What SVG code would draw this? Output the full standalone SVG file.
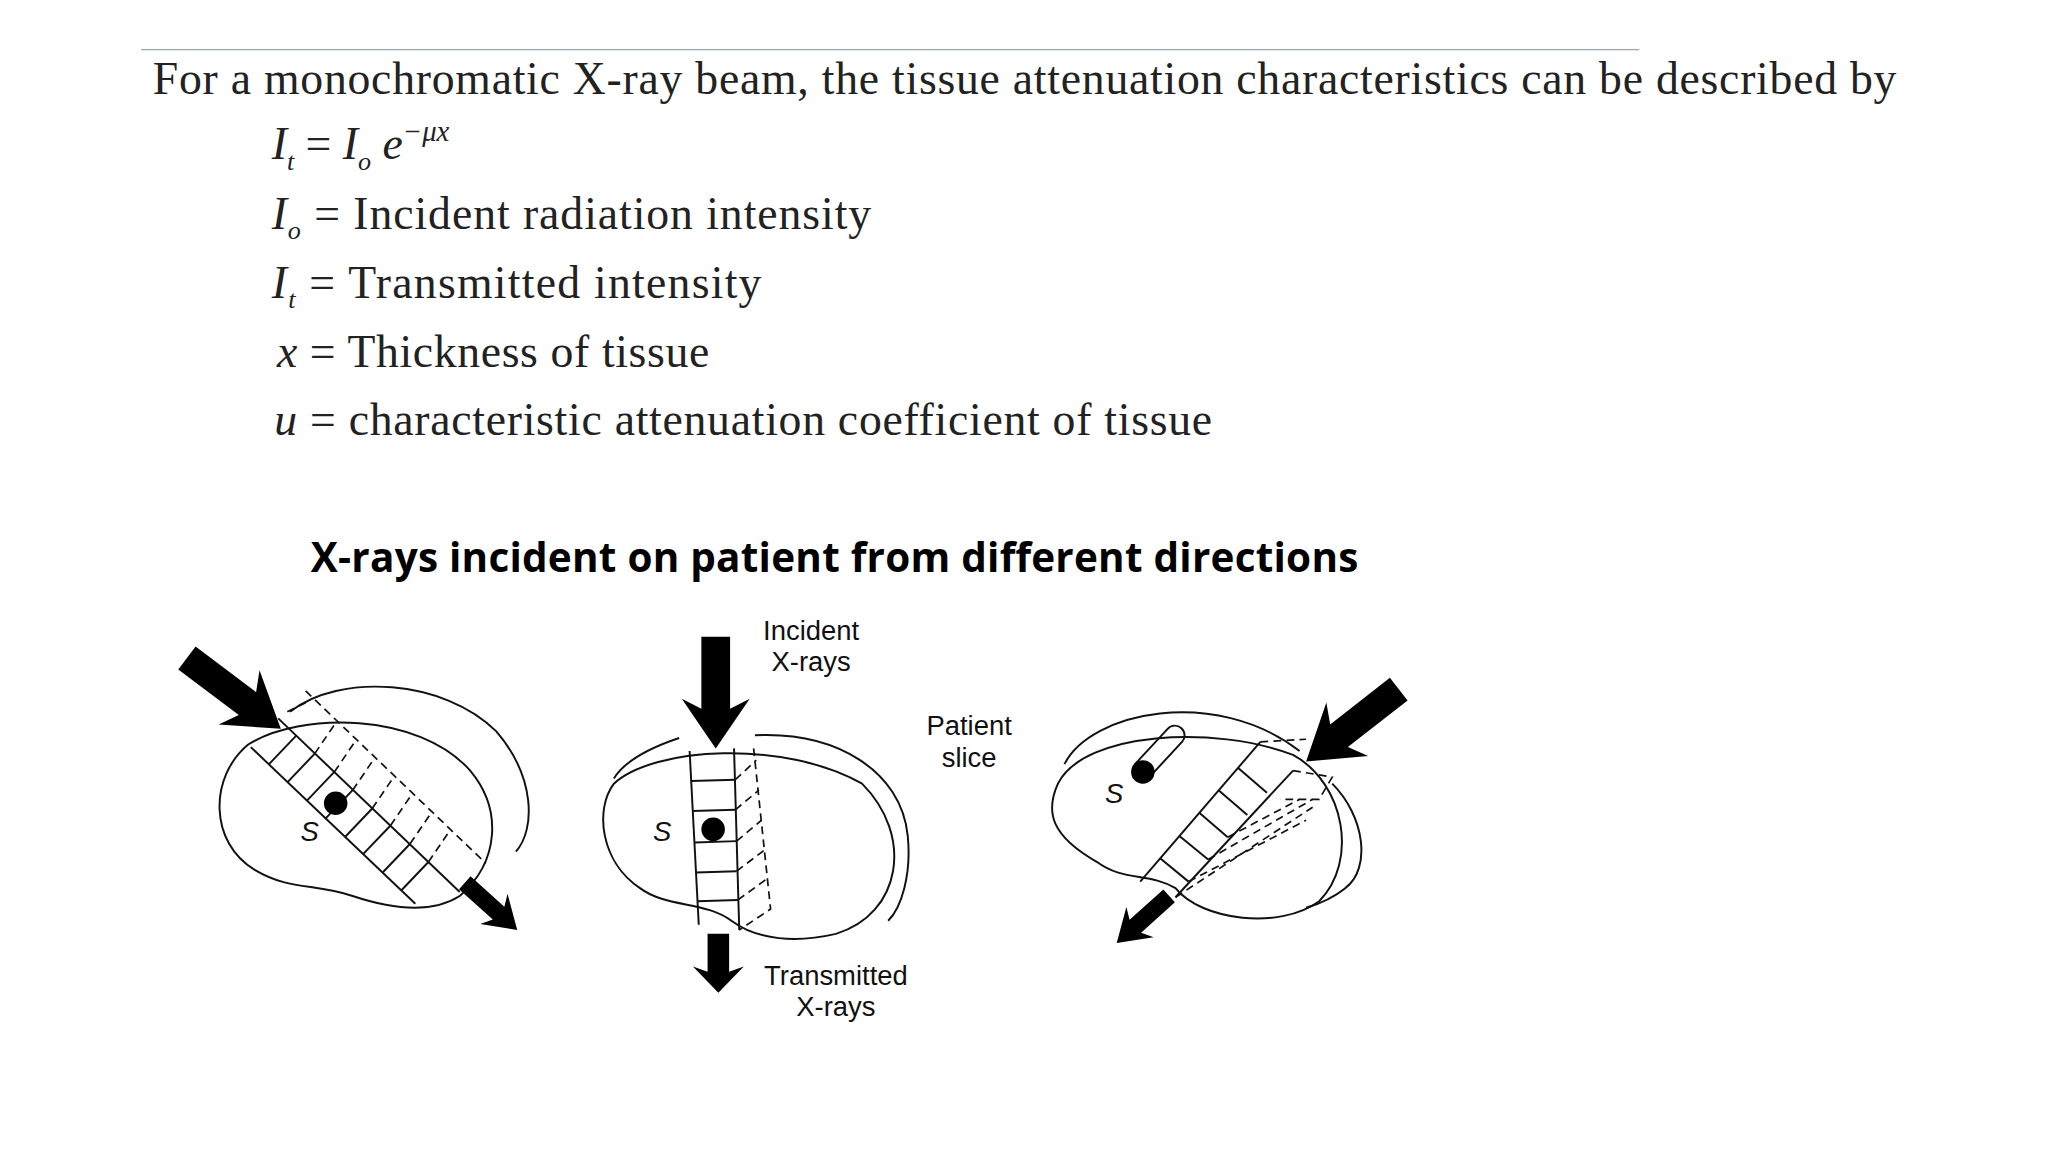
<svg xmlns="http://www.w3.org/2000/svg" width="2048" height="1152" viewBox="0 0 2048 1152">
<style>
.ser{font-family:"Liberation Serif",serif;font-size:35px;fill:#222}
.it{font-style:italic}
.lab{font-family:"Liberation Sans",Arial,sans-serif;font-size:21px;fill:#111}
.ttl{font-family:"Open Sans","Liberation Sans",sans-serif;font-weight:bold;font-size:31px;fill:#000}
.ol{fill:none;stroke:#111;stroke-width:1.5}
.ds{fill:none;stroke:#111;stroke-width:1.3;stroke-dasharray:6 4}
.ar{fill:#000}
</style>
<defs>
<polygon id="arr" points="0,0 -40,-26 -32,-11 -90,-11 -90,11 -32,11 -40,26"/>
</defs>
<rect width="2048" height="1152" fill="#fff"/>
<g transform="scale(1.3061)">
<g id="formula">
<line x1="108" y1="38" x2="1255" y2="38" stroke="#9aa6b2" stroke-width="1"/>
<text class="ser" x="117" y="72" textLength="1335">For a monochromatic X-ray beam, the tissue attenuation characteristics can be described by</text>
<text class="ser" x="208" y="122"><tspan class="it">I</tspan><tspan class="it" font-size="20" dy="8">t</tspan><tspan dy="-8"> = </tspan><tspan class="it">I</tspan><tspan class="it" font-size="20" dy="8">o</tspan><tspan class="it" dy="-8"> e</tspan><tspan class="it" font-size="22" dy="-14">−μx</tspan></text>
<text class="ser" x="208" y="175" textLength="459"><tspan class="it">I</tspan><tspan class="it" font-size="20" dy="8">o</tspan><tspan dy="-8"> = Incident radiation intensity</tspan></text>
<text class="ser" x="208" y="228" textLength="375"><tspan class="it">I</tspan><tspan class="it" font-size="20" dy="8">t</tspan><tspan dy="-8"> = Transmitted intensity</tspan></text>
<text class="ser" x="212" y="281" textLength="331"><tspan class="it">x</tspan> = Thickness of tissue</text>
<text class="ser" x="210" y="333" textLength="718"><tspan class="it">u</tspan> = characteristic attenuation coefficient of tissue</text>
</g>
<text id="title" class="ttl" x="238" y="438" textLength="802">X-rays incident on patient from different directions</text>

<g id="fig-left">
<path class="ol" d="M222,545 C260,515 340,520 380,560 C410,595 410,635 395,652"/>
<path class="ol" d="M190,570 C230,545 320,545 360,590 C385,620 382,660 352,686 C330,700 300,696 270,686 C240,676 222,682 195,666 C160,645 160,595 190,570 Z"/>
<line class="ol" x1="192" y1="572" x2="318" y2="692"/>
<line class="ol" x1="213" y1="550" x2="352" y2="683"/>
<line class="ds" x1="234" y1="529" x2="372" y2="661"/>
<line class="ds" x1="220" y1="545" x2="234" y2="538"/>
<g class="ol">
<line x1="206" y1="585" x2="227" y2="563"/><line x1="220" y1="599" x2="241" y2="577"/><line x1="235" y1="613" x2="256" y2="591"/><line x1="249" y1="627" x2="270" y2="605"/><line x1="264" y1="641" x2="285" y2="619"/><line x1="278" y1="654" x2="299" y2="632"/><line x1="293" y1="668" x2="314" y2="646"/><line x1="307" y1="682" x2="328" y2="660"/>
</g>
<g class="ds">
<line x1="241" y1="577" x2="256" y2="555"/><line x1="256" y1="591" x2="271" y2="569"/><line x1="270" y1="605" x2="285" y2="583"/><line x1="285" y1="619" x2="300" y2="597"/><line x1="299" y1="632" x2="314" y2="610"/><line x1="314" y1="646" x2="329" y2="624"/><line x1="328" y1="660" x2="343" y2="638"/>
</g>
<circle cx="257" cy="615" r="9"/>
<text class="lab it" x="230" y="644" font-size="24">S</text>
<use href="#arr" class="ar" transform="translate(215,558) rotate(37)"/>
<use href="#arr" class="ar" transform="translate(396,712) rotate(42) scale(0.6)"/>
</g>

<g id="fig-mid">
<path class="ol" d="M470,596 C480,580 505,570 520,565 M578,563 C640,560 690,590 695,640 C698,670 690,695 680,705"/>
<path class="ol" d="M470,600 C500,572 600,566 660,600 C700,640 690,700 640,715 C610,722 580,720 560,705 C540,690 510,695 490,680 C460,660 455,620 470,600 Z"/>
<line class="ol" x1="528" y1="575" x2="535" y2="708"/>
<line class="ol" x1="562" y1="573" x2="566" y2="712"/>
<g class="ol"><line x1="529" y1="598" x2="563" y2="597"/><line x1="530" y1="621" x2="563" y2="620"/><line x1="532" y1="645" x2="564" y2="644"/><line x1="533" y1="668" x2="564" y2="667"/><line x1="534" y1="690" x2="565" y2="689"/></g>
<path class="ds" d="M577,573 L590,696 L566,712"/>
<g class="ds"><line x1="563" y1="597" x2="579" y2="582"/><line x1="563" y1="620" x2="581" y2="605"/><line x1="564" y1="644" x2="583" y2="628"/><line x1="564" y1="667" x2="585" y2="651"/><line x1="565" y1="689" x2="587" y2="673"/></g>
<circle cx="546" cy="635" r="9"/>
<text class="lab it" x="500" y="644" font-size="24">S</text>
<use href="#arr" class="ar" transform="translate(548,573) rotate(90) scale(0.95,1)"/>
<use href="#arr" class="ar" transform="translate(550,760) rotate(90) scale(0.5,0.75)"/>
<text class="lab" x="621" y="490" text-anchor="middle">Incident</text>
<text class="lab" x="621" y="514" text-anchor="middle">X-rays</text>
<text class="lab" x="640" y="754" text-anchor="middle">Transmitted</text>
<text class="lab" x="640" y="778" text-anchor="middle">X-rays</text>
</g>
<text id="lbl-slice" class="lab" x="742" y="563" text-anchor="middle">Patient</text>
<text class="lab" x="742" y="587" text-anchor="middle">slice</text>

<g id="fig-right">
<path class="ol" d="M815,585 C835,545 930,525 995,575 M1020,600 C1045,625 1050,665 1030,680 C1020,688 1010,692 1000,695"/>
<path class="ol" d="M810,600 C830,560 930,555 990,578 C1030,600 1040,660 1010,690 C980,712 920,705 900,680 C880,668 860,675 840,660 C805,640 800,622 810,600 Z"/>
<line class="ol" x1="873" y1="675" x2="965" y2="568"/>
<line class="ol" x1="900" y1="687" x2="990" y2="590"/>
<g class="ol"><line x1="888" y1="657" x2="910" y2="675"/><line x1="903" y1="640" x2="925" y2="658"/><line x1="918" y1="622" x2="940" y2="641"/><line x1="933" y1="605" x2="955" y2="624"/><line x1="948" y1="588" x2="970" y2="607"/></g>
<path class="ds" d="M965,568 L1000,566 M990,590 L1020,595 L1010,612 L980,612 M900,687 L1005,618"/>
<g class="ds"><line x1="910" y1="675" x2="1000" y2="628"/><line x1="925" y1="658" x2="1005" y2="612"/><line x1="940" y1="641" x2="995" y2="612"/></g>
<path class="ol" d="M869,585 L894,558 A7,7 0 0 1 905,568 L880,595"/>
<circle cx="875" cy="591" r="9"/>
<text class="lab it" x="846" y="615" font-size="24">S</text>
<use href="#arr" class="ar" transform="translate(1000,583) rotate(142)"/>
<use href="#arr" class="ar" transform="translate(855,722) rotate(138) scale(0.6)"/>
</g>
</g>
</svg>
